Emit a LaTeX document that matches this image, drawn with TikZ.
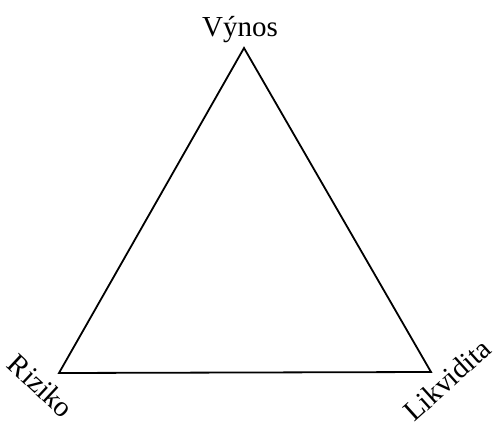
\documentclass[tikz,border=0pt]{standalone}
\usepackage{fontspec}
\setmainfont{Liberation Serif}
\begin{document}
\begin{tikzpicture}[x=1pt,y=1pt,
  lbl/.style={inner sep=0pt,font=\fontsize{29}{32}\selectfont},
  edge/.style={line width=1.8pt,line join=miter}]
\useasboundingbox (0,0) rectangle (497,426);
\coordinate (top) at (244,378);
\coordinate (bl) at (59,53);
\coordinate (br) at (431,54);
\draw[edge] (top) -- (bl) -- (br) -- cycle;
\node[lbl,anchor=base] (vynos) at (240,389) {Výnos};
\node[lbl,rotate=-43] (riziko) at (41,40) {Riziko};
\node[lbl,rotate=42] (likvidita) at (447,46) {Likvidita};
\end{tikzpicture}
\end{document}
